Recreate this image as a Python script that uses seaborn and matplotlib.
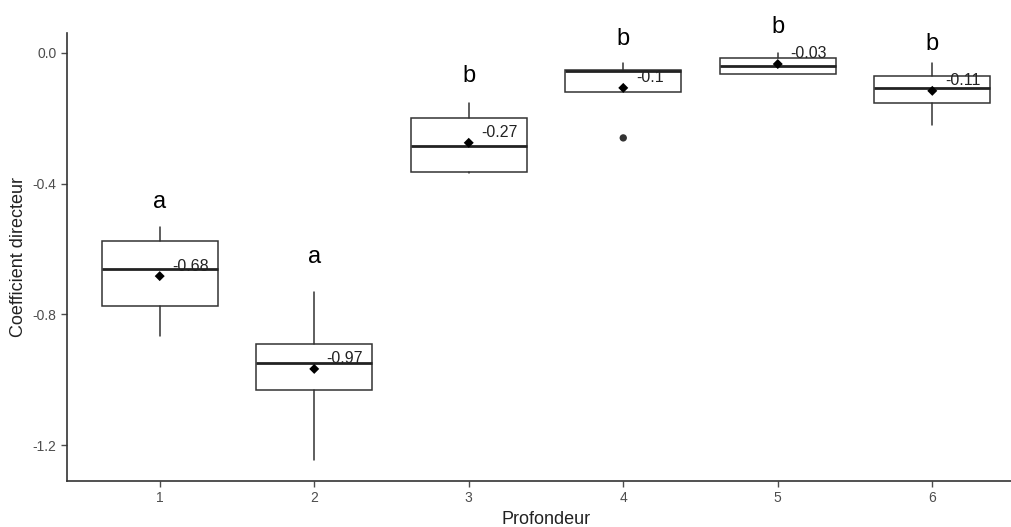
import matplotlib
matplotlib.use('Agg')
import matplotlib.pyplot as plt
import seaborn as sns

# valeurs
profondeur = [1, 2, 3, 4, 5, 6]
q1 = [-0.774, -1.031, -0.364, -0.119, -0.064, -0.153]
mediane = [-0.661, -0.949, -0.285, -0.055, -0.040, -0.107]
q3 = [-0.575, -0.891, -0.199, -0.052, -0.015, -0.070]
moustache_bas = [-0.866, -1.246, -0.367, -0.119, -0.064, -0.220]
moustache_haut = [-0.532, -0.731, -0.153, -0.030, 0.000, -0.031]
moyenne = [-0.683, -0.967, -0.275, -0.107, -0.034, -0.116]
moyenne_txt = ['-0.68', '-0.97', '-0.27', '-0.1', '-0.03', '-0.11']
aberrant_x = [4]
aberrant_y = [-0.26]
lettres = ['a', 'a', 'b', 'b', 'b', 'b']
lettres_y = [-0.475, -0.643, -0.089, 0.025, 0.061, 0.009]

sns.set_style('ticks')
plt.rcParams['font.family'] = ['Liberation Sans', 'DejaVu Sans']

fig = plt.figure(figsize=(10.11, 5.27), dpi=100)
ax = fig.add_axes([67 / 1011, 46 / 527, 958 / 1011, 448 / 527])

stats = []
for i in range(len(profondeur)):
    stats.append(dict(med=mediane[i], q1=q1[i], q3=q3[i],
                      whislo=moustache_bas[i], whishi=moustache_haut[i], fliers=[]))

ax.bxp(stats, positions=profondeur, widths=0.75, patch_artist=True,
       showfliers=False, showcaps=False,
       boxprops=dict(facecolor='white', edgecolor='#333333', linewidth=1.1),
       whiskerprops=dict(color='#333333', linewidth=1.1),
       medianprops=dict(color='#222222', linewidth=2))

sns.scatterplot(x=aberrant_x, y=aberrant_y, ax=ax, color='#333333', s=28,
                edgecolor='none', zorder=5)
sns.scatterplot(x=profondeur, y=moyenne, ax=ax, color='black', marker='D', s=26,
                edgecolor='none', zorder=6)

for x, y, t in zip(profondeur, moyenne, moyenne_txt):
    ax.annotate(t, (x, y), xytext=(9, 4), textcoords='offset points',
                ha='left', va='baseline', fontsize=11.5, color='#222222')

for x, y, l in zip(profondeur, lettres_y, lettres):
    ax.text(x, y, l, ha='center', va='baseline', fontsize=17, color='black')

ax.set_xlim(0.4, 6.6)
ax.set_ylim(-1.31, 0.061)
ax.set_xticks(profondeur)
ax.set_xticklabels([str(p) for p in profondeur])
ax.set_yticks([0.0, -0.4, -0.8, -1.2])
ax.set_yticklabels(['0.0', '-0.4', '-0.8', '-1.2'])
ax.set_xlabel('Profondeur', fontsize=13, color='#222222', labelpad=4)
ax.set_ylabel('Coefficient directeur', fontsize=13, color='#222222', labelpad=4)
ax.tick_params(labelsize=10, colors='#4d4d4d', length=4, width=1)
sns.despine(ax=ax)
for s in ['left', 'bottom']:
    ax.spines[s].set_color('#333333')
    ax.spines[s].set_linewidth(1.2)

fig.savefig('out.png', dpi=100)
